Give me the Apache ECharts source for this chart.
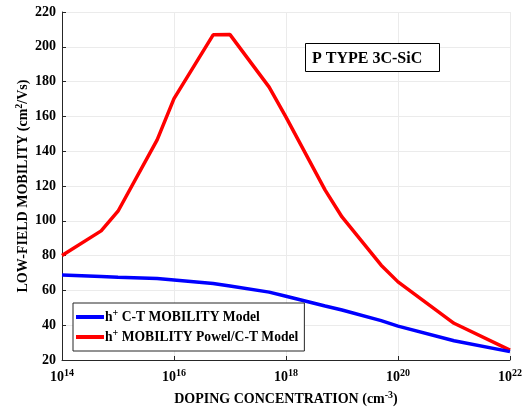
<!DOCTYPE html>
<html>
<head>
<meta charset="utf-8">
<script src="https://cdn.jsdelivr.net/npm/echarts@6/dist/echarts.min.js"></script>
<style>html,body{margin:0;padding:0;background:#fff;}#c{width:532px;height:414px;}</style>
</head>
<body>
<div id="c"></div>
<script>
// Doping concentration (cm^-3)
const concentration = [1e14, 5e14, 1e15, 5e15, 1e16, 5e16, 1e17, 5e17, 1e18, 5e18, 1e19, 5e19, 1e20, 1e21, 1e22];
// h+ C-T MOBILITY Model (cm^2/Vs)
const ctMobility = [68.8, 68.0, 67.6, 66.8, 66.0, 64.0, 62.5, 59.0, 56.6, 51.0, 48.7, 42.6, 39.5, 31.1, 24.8];
// h+ MOBILITY Powel/C-T Model (cm^2/Vs)
const powelMobility = [80.0, 94.2, 105.5, 146.5, 170.2, 206.9, 207.0, 176.8, 159.6, 117.6, 102.2, 74.5, 64.9, 41.1, 25.7];
const xTickExponents = [14, 16, 18, 20, 22];
const yTicks = [20, 40, 60, 80, 100, 120, 140, 160, 180, 200, 220];
const seriesNames = ['h{sup|+} C-T MOBILITY Model', 'h{sup|+} MOBILITY Powel/C-T Model'];
const legendKeys = ['ct', 'powel'];
const titleText = 'P TYPE 3C-SiC';
const xName = 'DOPING CONCENTRATION (cm{sup|-3})';
const yName = 'LOW-FIELD MOBILITY (cm{sup|2}/Vs)';

const FONT = '"Liberation Serif", "Times New Roman", serif';
const toPairs = (ys) => concentration.map((c, i) => [Math.log10(c), ys[i]]);

const chart = echarts.init(document.getElementById('c'), null, {renderer: 'canvas'});
const supStyle = (size, pad) => ({fontSize: size, fontWeight: 'bold', fontFamily: FONT, color: '#000', padding: [0, 0, pad, 0]});

chart.setOption({
  animation: false,
  backgroundColor: '#fff',
  grid: {left: 62, right: 22, top: 12, bottom: 54},
  xAxis: {
    type: 'value',
    min: xTickExponents[0], max: xTickExponents[xTickExponents.length - 1], interval: 2,
    axisLine: {lineStyle: {color: '#262626', width: 1}},
    axisTick: {inside: true, length: 4, lineStyle: {color: '#262626'}},
    splitLine: {show: true, lineStyle: {color: '#ebebeb', width: 1}},
    axisLabel: {
      margin: 8, color: '#000', fontFamily: FONT, fontWeight: 'bold', fontSize: 14,
      formatter: v => '10{sup|' + v + '}',
      rich: {sup: supStyle(10, 8)}
    },
    name: xName, nameLocation: 'middle', nameGap: 30, nameMoveOverlap: false,
    nameTextStyle: {color: '#000', fontFamily: FONT, fontWeight: 'bold', fontSize: 14, rich: {sup: supStyle(10, 8)}}
  },
  yAxis: {
    type: 'value',
    min: yTicks[0], max: yTicks[yTicks.length - 1], interval: 20,
    axisLine: {show: true, lineStyle: {color: '#262626', width: 1}},
    axisTick: {show: true, inside: true, length: 4, lineStyle: {color: '#262626'}},
    splitLine: {show: true, lineStyle: {color: '#ebebeb', width: 1}},
    axisLabel: {margin: 6, color: '#000', fontFamily: FONT, fontWeight: 'bold', fontSize: 14},
    name: yName, nameLocation: 'middle', nameGap: 30, nameRotate: 90, nameMoveOverlap: false,
    nameTextStyle: {color: '#000', fontFamily: FONT, fontWeight: 'bold', fontSize: 14, rich: {sup: supStyle(10, 8)}}
  },
  legend: {
    orient: 'vertical', left: 73, top: 303,
    data: [legendKeys[0], legendKeys[1]],
    backgroundColor: '#fff', borderColor: '#262626', borderWidth: 1,
    padding: [5, 6, 7, 3], itemGap: 4,
    icon: 'rect', itemWidth: 28, itemHeight: 4,
    formatter: n => n === legendKeys[0] ? seriesNames[0] : seriesNames[1],
    textStyle: {color: '#000', fontFamily: FONT, fontWeight: 'bold', fontSize: 13.6, padding: [0, 0, 0, -4],
      rich: {sup: supStyle(10, 8)}}
  },
  series: [
    {name: legendKeys[1], type: 'line', data: toPairs(powelMobility), symbol: 'none', z: 2,
     lineStyle: {color: '#ff0000', width: 3.5}, itemStyle: {color: '#ff0000'}},
    {name: legendKeys[0], type: 'line', data: toPairs(ctMobility), symbol: 'none', z: 3,
     lineStyle: {color: '#0000ff', width: 3.5}, itemStyle: {color: '#0000ff'}}
  ],
  graphic: [
    {type: 'rect', left: 305, top: 43, shape: {width: 134, height: 28}, z: 10,
     style: {fill: '#fff', stroke: '#000', lineWidth: 1}},
    {type: 'text', left: 312, top: 51, z: 11,
     style: {text: titleText, fill: '#000', font: 'bold 16px ' + FONT}}
  ]
});
</script>
</body>
</html>
